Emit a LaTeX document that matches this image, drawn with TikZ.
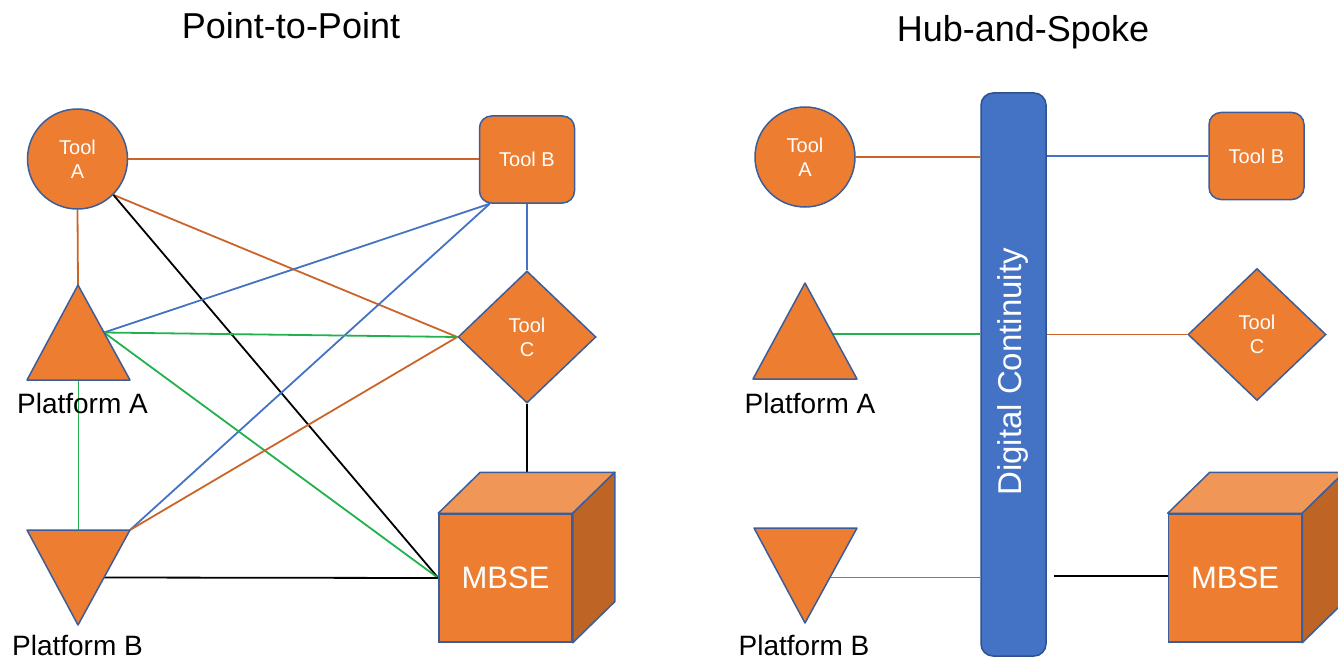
\documentclass[tikz,border=0pt]{standalone}
\usepackage{fontspec}
\setmainfont{Liberation Sans}
\usetikzlibrary{shapes.geometric,calc}
\definecolor{ofill}{HTML}{ED7D31}
\definecolor{oline}{HTML}{3B5E9A}
\definecolor{ctop}{HTML}{F09656}
\definecolor{cside}{HTML}{BE6424}
\definecolor{lorange}{HTML}{CB6428}
\definecolor{lblue}{HTML}{4472C4}
\definecolor{lgreen}{HTML}{22B14C}
\definecolor{barfill}{HTML}{4472C4}
\definecolor{barline}{HTML}{2F528F}
\pgfdeclarelayer{bg}
\pgfsetlayers{bg,main}
\begin{document}
\begin{tikzpicture}[x=0.5pt,y=-0.5pt,
  shp/.style={draw=oline,fill=ofill,line width=0.75pt},
  wtxt/.style={text=white,font=\fontsize{10}{12}\selectfont,align=center},
  toolcirc/.style={shp,wtxt,circle,minimum size=50pt,inner sep=0pt},
  toolbox/.style={shp,wtxt,rectangle,rounded corners=6pt,minimum width=47.5pt,minimum height=43.5pt,inner sep=0pt},
  tooldiam/.style={shp,wtxt,diamond,minimum width=69pt,minimum height=66pt,inner sep=0pt},
  cubefront/.style={shp,rectangle,minimum width=66.5pt,minimum height=64pt,inner sep=0pt,text=white,font=\fontsize{15.5}{18}\selectfont},
  cubetop/.style={draw=oline,fill=ctop,line width=0.75pt,line join=round},
  cubeside/.style={draw=oline,fill=cside,line width=0.75pt,line join=round},
  plabel/.style={anchor=base,font=\fontsize{14}{17}\selectfont,text=black,inner sep=0pt},
  title/.style={anchor=base,font=\fontsize{18}{22}\selectfont,text=black,inner sep=0pt},
  lo/.style={draw=lorange,line width=0.9pt},
  lb/.style={draw=lblue,line width=0.9pt},
  lg/.style={draw=lgreen,line width=0.9pt},
  lk/.style={draw=black,line width=0.9pt}]
\useasboundingbox (0,0) rectangle (1338,658);
\clip (0,0) rectangle (1338,658);

% ---------------- titles ----------------
\node[title] (t1) at (291,39) {Point-to-Point};
\node[title] (t2) at (1023,42) {Hub-and-Spoke};

% ---------------- left: point-to-point ----------------
\node[toolcirc] (ta) at (77.5,159) {Tool\\A};
\node[toolbox] (tb) at (527,159.5) {Tool B};
\node[tooldiam] (tc) at (527,337) {Tool\\C};
\coordinate (tbbl) at ($(tb.south west)+(11,0)$);

\coordinate (pat) at (78,285);
\coordinate (pal) at (27,380);
\coordinate (par) at (130,380);
\draw[shp,line join=round] (pat) -- (par) -- (pal) -- cycle;
\coordinate (pae) at ($(pat)!0.5!(par)$);
\coordinate (pas) at ($(pal)!0.5!(par)$);
\node[plabel] (pal1) at (82.5,413) {Platform A};

\coordinate (pbl) at (27,530);
\coordinate (pbr) at (130,530);
\coordinate (pbb) at (78,625);
\draw[shp,line join=round] (pbl) -- (pbr) -- (pbb) -- cycle;
\coordinate (pbe) at ($(pbr)!0.5!(pbb)$);
\coordinate (pbn) at ($(pbl)!0.5!(pbr)$);
\node[plabel] (pbl1) at (77.5,655) {Platform B};

\node[cubefront] (mb) at (505.5,578) {MBSE};
\draw[cubetop] (mb.north west) -- ($(mb.north west)+(42,-41)$) -- ($(mb.north east)+(42,-41)$) -- (mb.north east) -- cycle;
\draw[cubeside] (mb.north east) -- ($(mb.north east)+(42,-41)$) -- ($(mb.south east)+(42,-41)$) -- (mb.south east) -- cycle;
\coordinate (mbbt) at ($(mb.north west)+(42,-41)$);

\begin{pgfonlayer}{bg}
\draw[lo] (ta.east) -- (tb.west |- ta.east);
\draw[lo] (ta.south) -- (pat);
\draw[lo] (ta.south east) -- (tc.west);
\draw[lk] (ta.south east) -- (mb.west);
\draw[lb] (tbbl) -- (pae);
\draw[lb] (tbbl) -- (pbr);
\draw[lb] (tb.south) -- (tc.north);
\draw[lg] (pae) -- (tc.west);
\draw[lg] (pae) -- (mb.west);
\draw[lg] (pas) -- (pbn);
\draw[lo] (pbr) -- (tc.west);
\draw[lk] (pbe) -- (mb.west);
\draw[lk] (tc.south) -- (tc.south |- mbbt);
\end{pgfonlayer}

% ---------------- right: hub-and-spoke ----------------
\node[toolcirc] (ta2) at (805,157) {Tool\\A};
\node[toolbox] (tb2) at (1256.5,156) {Tool B};
\node[tooldiam] (tc2) at (1257,334.5) {Tool\\C};

\node[draw=barline,fill=barfill,line width=0.75pt,rectangle,rounded corners=6pt,minimum width=32.5pt,minimum height=281.5pt,inner sep=0pt] (bar) at (1013.5,374.5) {};
\node[rotate=90,text=white,font=\fontsize{16.5}{19}\selectfont,inner sep=0pt] (dc) at (1013,372) {Digital Continuity};

\coordinate (pa2t) at (805,283);
\coordinate (pa2l) at (753,379);
\coordinate (pa2r) at (857,379);
\draw[shp,line join=round] (pa2t) -- (pa2r) -- (pa2l) -- cycle;
\coordinate (pa2e) at ($(pa2t)!0.53!(pa2r)$);
\node[plabel] (pal2) at (810,413) {Platform A};

\coordinate (pb2l) at (754,528);
\coordinate (pb2r) at (857,528);
\coordinate (pb2b) at (805,623);
\draw[shp,line join=round] (pb2l) -- (pb2r) -- (pb2b) -- cycle;
\coordinate (pb2e) at ($(pb2r)!0.52!(pb2b)$);
\node[plabel] (pbl2) at (804,655) {Platform B};

\node[cubefront] (mb2) at (1235,578) {MBSE};
\draw[cubetop] (mb2.north west) -- ($(mb2.north west)+(42,-41)$) -- ($(mb2.north east)+(42,-41)$) -- (mb2.north east) -- cycle;
\draw[cubeside] (mb2.north east) -- ($(mb2.north east)+(42,-41)$) -- ($(mb2.south east)+(42,-41)$) -- (mb2.south east) -- cycle;

\coordinate (gap) at ($(bar.east |- mb2.west)+(7,-2)$);
\begin{pgfonlayer}{bg}
\draw[lo] (ta2.east) -- (bar.west |- ta2.east);
\draw[lb] (bar.east |- tb2.west) -- (tb2.west);
\draw[lg] (pa2e) -- (bar.west |- pa2e);
\draw[lo] (bar.east |- tc2.west) -- (tc2.west);
\draw[lo] (pb2e) -- (bar.west |- pb2e);
\draw[lk] (gap) -- (mb2.west |- gap);
\end{pgfonlayer}
\end{tikzpicture}
\end{document}
